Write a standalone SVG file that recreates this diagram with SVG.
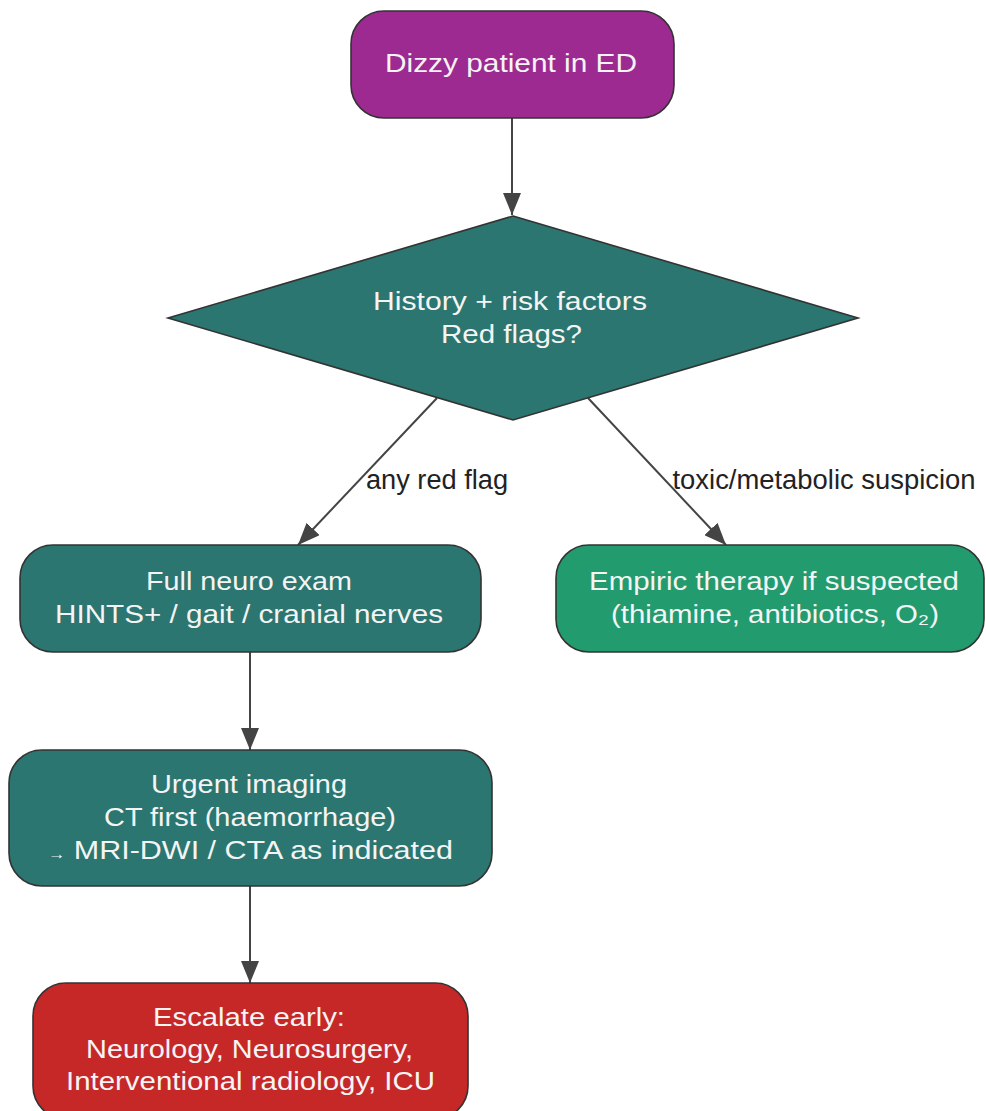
<svg xmlns="http://www.w3.org/2000/svg" width="986" height="1111" viewBox="0 0 986 1111">
<style>
.node{stroke:#333;stroke-width:1.6}
.nt{font-family:"Liberation Sans",Arial,sans-serif;font-size:26.5px;fill:#f4f4f4;text-anchor:middle}
.el{font-family:"Liberation Sans",Arial,sans-serif;font-size:27px;fill:#222;text-anchor:middle}
.edge{stroke:#444;stroke-width:2;fill:none;marker-end:url(#ah)}
</style>
<defs>
<marker id="ah" markerUnits="userSpaceOnUse" viewBox="0 0 22 18" refX="22" refY="9" markerWidth="22" markerHeight="18" orient="auto">
<path d="M0,0 L22,9 L0,18 z" fill="#444"/>
</marker>
</defs>
<rect width="986" height="1111" fill="#fff"/>
<g id="connectors">
<line class="edge" x1="512" y1="118" x2="512" y2="215"/>
<line class="edge" x1="437" y1="398" x2="298" y2="545"/>
<line class="edge" x1="588" y1="398" x2="726" y2="545"/>
<line class="edge" x1="250" y1="652" x2="250" y2="750"/>
<line class="edge" x1="250" y1="886" x2="250" y2="983"/>
<text class="el" x="437" y="489" textLength="142" lengthAdjust="spacingAndGlyphs">any red flag</text>
<text class="el" x="824" y="489" textLength="303" lengthAdjust="spacingAndGlyphs">toxic/metabolic suspicion</text>
</g>
<g id="start">
<rect class="node" x="351" y="11" width="323" height="107" rx="33" ry="33" fill="#9d2a91"/>
<text class="nt" x="511" y="72" textLength="252" lengthAdjust="spacingAndGlyphs">Dizzy patient in ED</text>
</g>
<g id="history">
<polygon class="node" points="513,216 858,318 513,420 168,318" fill="#2b7670"/>
<text class="nt" x="510" y="310" textLength="274" lengthAdjust="spacingAndGlyphs">History + risk factors</text>
<text class="nt" x="511.5" y="343" textLength="141" lengthAdjust="spacingAndGlyphs">Red flags?</text>
</g>
<g id="neuro">
<rect class="node" x="20" y="545" width="461" height="107" rx="33" ry="33" fill="#2b7670"/>
<text class="nt" x="249" y="590" textLength="206" lengthAdjust="spacingAndGlyphs">Full neuro exam</text>
<text class="nt" x="249" y="623" textLength="388" lengthAdjust="spacingAndGlyphs">HINTS+ / gait / cranial nerves</text>
</g>
<g id="empiric">
<rect class="node" x="556" y="545" width="428" height="107" rx="33" ry="33" fill="#229b6f"/>
<text class="nt" x="774" y="590" textLength="370" lengthAdjust="spacingAndGlyphs">Empiric therapy if suspected</text>
<text class="nt" x="775" y="623" textLength="328" lengthAdjust="spacingAndGlyphs">(thiamine, antibiotics, O₂)</text>
</g>
<g id="imaging">
<rect class="node" x="9" y="750" width="483" height="136" rx="33" ry="33" fill="#2b7670"/>
<text class="nt" x="249" y="793" textLength="196" lengthAdjust="spacingAndGlyphs">Urgent imaging</text>
<text class="nt" x="250" y="826" textLength="292" lengthAdjust="spacingAndGlyphs">CT first (haemorrhage)</text>
<text class="nt" x="250.5" y="859" textLength="405" lengthAdjust="spacingAndGlyphs"><tspan font-size="15">→</tspan> MRI-DWI / CTA as indicated</text>
</g>
<g id="escalate">
<rect class="node" x="33" y="983" width="435" height="136" rx="33" ry="33" fill="#c62828"/>
<text class="nt" x="249" y="1026" textLength="192" lengthAdjust="spacingAndGlyphs">Escalate early:</text>
<text class="nt" x="249.5" y="1058" textLength="327" lengthAdjust="spacingAndGlyphs">Neurology, Neurosurgery,</text>
<text class="nt" x="250.5" y="1090" textLength="369" lengthAdjust="spacingAndGlyphs">Interventional radiology, ICU</text>
</g>
</svg>
